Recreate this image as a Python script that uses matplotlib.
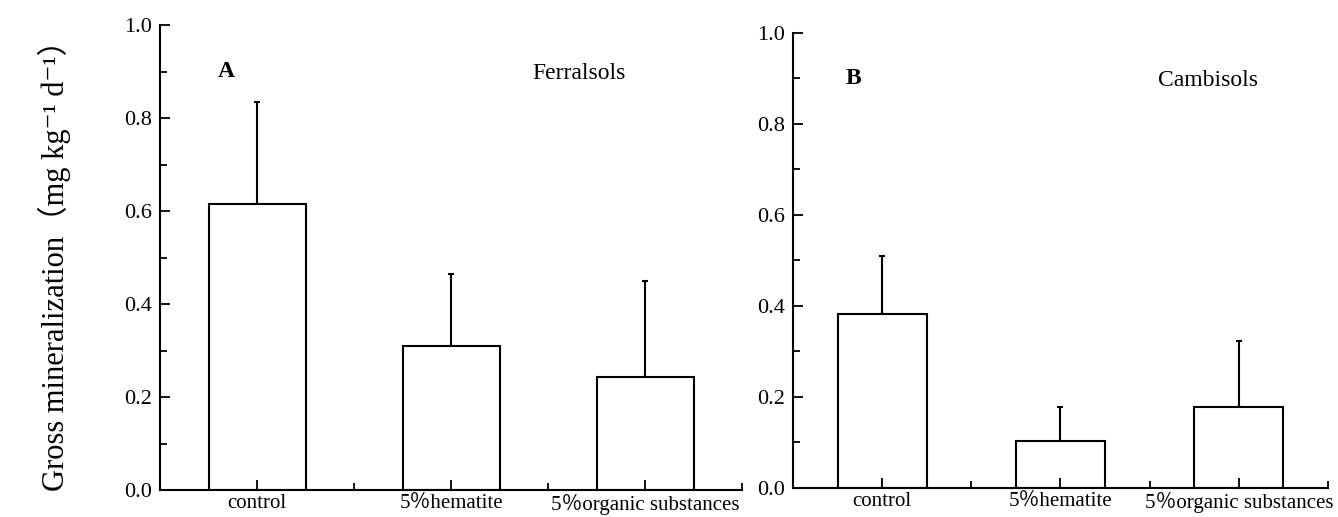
import matplotlib
matplotlib.use('Agg')
import matplotlib.pyplot as plt
from matplotlib.ticker import MultipleLocator

categories = ['control', '5％hematite', '5％organic substances']

ferralsols_mean = [0.615, 0.310, 0.243]
ferralsols_err = [0.220, 0.155, 0.207]

cambisols_mean = [0.382, 0.103, 0.178]
cambisols_err = [0.128, 0.075, 0.145]

plt.rcParams['font.family'] = ['Liberation Serif', 'Noto Sans CJK SC', 'DejaVu Sans']

fig = plt.figure(figsize=(13.38, 5.17), dpi=100)
axA = fig.add_axes([0.1196, 0.0522, 0.435, 0.8994])
axB = fig.add_axes([0.5927, 0.0561, 0.3998, 0.8801])

xs = [0.5, 1.5, 2.5]


def draw(ax, means, errs, letter, soil, soil_x):
    ax.bar(xs, means, width=0.5, color='white', edgecolor='black', linewidth=1.5,
           zorder=2)
    ax.errorbar(xs, means, yerr=[[0, 0, 0], errs], fmt='none', ecolor='black',
                elinewidth=1.5, capsize=2, capthick=1.5, zorder=1)
    ax.set_axisbelow(False)
    ax.set_xlim(0, 3)
    ax.set_ylim(0, 1.0)
    ax.yaxis.set_minor_locator(MultipleLocator(0.1))
    ax.xaxis.set_minor_locator(MultipleLocator(1))
    ax.set_xticks(xs)
    ax.set_xticklabels(categories, fontsize=15)
    ax.set_yticks([0, 0.2, 0.4, 0.6, 0.8, 1.0])
    ax.set_yticklabels(['0.0', '0.2', '0.4', '0.6', '0.8', '1.0'], fontsize=16)
    ax.tick_params(which='both', direction='in', width=1.3)
    ax.tick_params(which='major', length=7)
    ax.tick_params(which='minor', length=5)
    ax.tick_params(axis='x', pad=3)
    ax.tick_params(axis='y', pad=6)
    for s in ['top', 'right']:
        ax.spines[s].set_visible(False)
    for s in ['left', 'bottom']:
        ax.spines[s].set_linewidth(1.5)
    ax.text(0.34, 0.9, letter, fontsize=17, fontweight='bold', ha='center', va='center')
    ax.text(soil_x, 0.895, soil, fontsize=17, ha='center', va='center')


draw(axA, ferralsols_mean, ferralsols_err, 'A', 'Ferralsols', 2.16)
draw(axB, cambisols_mean, cambisols_err, 'B', 'Cambisols', 2.33)

axA.set_ylabel('Gross mineralization（mg kg⁻¹ d⁻¹）', fontsize=22, labelpad=38)

fig.savefig('out.png', dpi=100)
